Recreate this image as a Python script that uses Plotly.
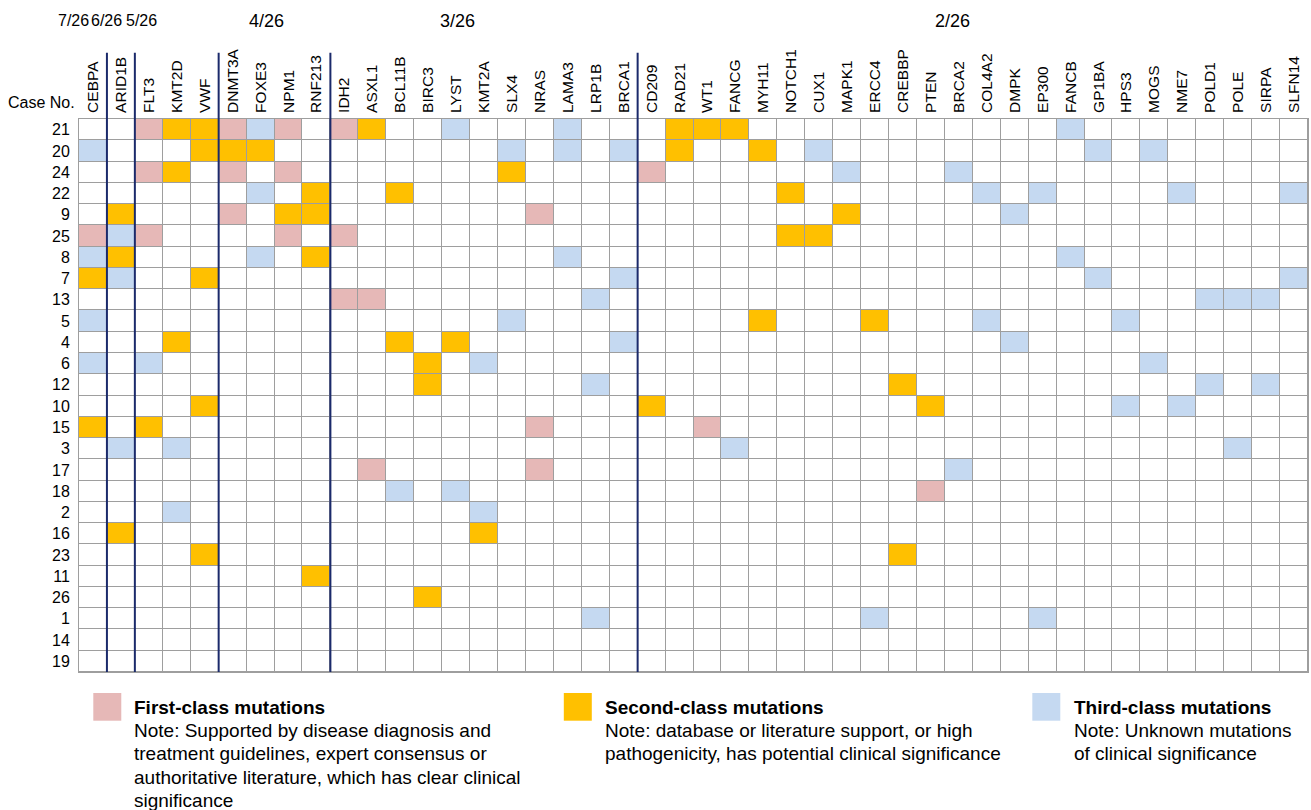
import plotly.graph_objects as go

# ---------------------------------------------------------------- data
genes = ["CEBPA", "ARID1B", "FLT3", "KMT2D", "VWF", "DNMT3A", "FOXE3", "NPM1",
         "RNF213", "IDH2", "ASXL1", "BCL11B", "BIRC3", "LYST", "KMT2A", "SLX4",
         "NRAS", "LAMA3", "LRP1B", "BRCA1", "CD209", "RAD21", "WT1", "FANCG",
         "MYH11", "NOTCH1", "CUX1", "MAPK1", "ERCC4", "CREBBP", "PTEN", "BRCA2",
         "COL4A2", "DMPK", "EP300", "FANCB", "GP1BA", "HPS3", "MOGS", "NME7",
         "POLD1", "POLE", "SIRPA", "SLFN14"]

cases = ["21", "20", "24", "22", "9", "25", "8", "7", "13", "5", "4", "6", "12",
         "10", "15", "3", "17", "18", "2", "16", "23", "11", "26", "1", "14", "19"]

# class 1: guideline / consensus supported
first_class = {
    "21": ["FLT3", "DNMT3A", "NPM1", "IDH2"],
    "24": ["FLT3", "DNMT3A", "NPM1", "CD209"],
    "9":  ["DNMT3A", "NRAS"],
    "25": ["CEBPA", "FLT3", "NPM1", "IDH2"],
    "13": ["IDH2", "ASXL1"],
    "15": ["NRAS", "WT1"],
    "17": ["ASXL1", "NRAS"],
    "18": ["PTEN"],
}

# class 2: potential clinical significance
second_class = {
    "21": ["KMT2D", "VWF", "ASXL1", "RAD21", "WT1", "FANCG"],
    "20": ["VWF", "DNMT3A", "FOXE3", "RAD21", "MYH11"],
    "24": ["KMT2D", "SLX4"],
    "22": ["RNF213", "BCL11B", "NOTCH1"],
    "9":  ["ARID1B", "NPM1", "RNF213", "MAPK1"],
    "25": ["NOTCH1", "CUX1"],
    "8":  ["ARID1B", "RNF213"],
    "7":  ["CEBPA", "VWF"],
    "5":  ["MYH11", "ERCC4"],
    "4":  ["KMT2D", "BCL11B", "LYST"],
    "6":  ["BIRC3"],
    "12": ["BIRC3", "CREBBP"],
    "10": ["VWF", "CD209", "PTEN"],
    "15": ["CEBPA", "FLT3"],
    "16": ["ARID1B", "KMT2A"],
    "23": ["VWF", "CREBBP"],
    "11": ["RNF213"],
    "26": ["BIRC3"],
}

# class 3: unknown clinical significance
third_class = {
    "21": ["FOXE3", "LYST", "LAMA3", "FANCB"],
    "20": ["CEBPA", "SLX4", "LAMA3", "BRCA1", "CUX1", "GP1BA", "MOGS"],
    "24": ["MAPK1", "BRCA2"],
    "22": ["FOXE3", "COL4A2", "EP300", "NME7", "SLFN14"],
    "9":  ["DMPK"],
    "25": ["ARID1B"],
    "8":  ["CEBPA", "FOXE3", "LAMA3", "FANCB"],
    "7":  ["ARID1B", "BRCA1", "GP1BA", "SLFN14"],
    "13": ["LRP1B", "POLD1", "POLE", "SIRPA"],
    "5":  ["CEBPA", "SLX4", "COL4A2", "HPS3"],
    "4":  ["BRCA1", "DMPK"],
    "6":  ["CEBPA", "FLT3", "KMT2A", "MOGS"],
    "12": ["LRP1B", "POLD1", "SIRPA"],
    "10": ["HPS3", "NME7"],
    "3":  ["ARID1B", "KMT2D", "FANCG", "POLE"],
    "17": ["BRCA2"],
    "18": ["BCL11B", "LYST"],
    "2":  ["KMT2D", "KMT2A"],
    "1":  ["LRP1B", "ERCC4", "EP300"],
}

class_names = ["First-class mutations", "Second-class mutations", "Third-class mutations"]
class_notes = [
    ["Note: Supported by disease diagnosis and",
     "treatment guidelines, expert consensus or",
     "authoritative literature, which has clear clinical",
     "significance"],
    ["Note: database or literature support, or high",
     "pathogenicity, has potential clinical significance"],
    ["Note: Unknown mutations",
     "of clinical significance"],
]

# ---------------------------------------------------------------- styling
FONT = "Liberation Sans, Arial, sans-serif"
WHITE = "#FFFFFF"
PINK = "#E6B8B7"
ORANGE = "#FFC000"
BLUE = "#C5D9F1"
GRID = "#9E9E9E"
NAVY = "#1B2A6B"

W, H = 1311, 810
L, R, T, B = 79, 1308.5, 119.3, 672.3


def px_x(px):
    return (px - L) / (R - L)


def px_y(py):
    return (B - py) / (B - T)


# ---------------------------------------------------------------- matrix
z = []
for c in cases:
    row = []
    for g in genes:
        v = 0
        if g in first_class.get(c, []):
            v = 1
        elif g in second_class.get(c, []):
            v = 2
        elif g in third_class.get(c, []):
            v = 3
        row.append(v)
    z.append(row)

freq = [sum(1 for r in z if r[j] > 0) for j in range(len(genes))]

colorscale = [
    [0.00, WHITE], [0.25, WHITE],
    [0.25, PINK], [0.50, PINK],
    [0.50, ORANGE], [0.75, ORANGE],
    [0.75, BLUE], [1.00, BLUE],
]

fig = go.Figure(go.Heatmap(
    z=z, x=genes, y=cases,
    zmin=-0.5, zmax=3.5,
    colorscale=colorscale, showscale=False,
    xgap=1, ygap=1,
    hovertemplate="Case %{y}<br>%{x}<extra></extra>",
))

# navy separators between frequency groups
boundaries = [j + 0.5 for j in range(len(genes) - 1) if freq[j] != freq[j + 1]]
for xb in boundaries:
    fig.add_shape(type="line", xref="x", yref="paper",
                  x0=xb, x1=xb, y0=0, y1=px_y(53),
                  line=dict(color=NAVY, width=2))

# frequency labels above each group
groups = []
start = 0
for j in range(1, len(genes) + 1):
    if j == len(genes) or freq[j] != freq[start]:
        groups.append((start, j - 1, freq[start]))
        start = j
label_px = [73, 107, 141.5, 267, 458, 953]
label_size = [16, 16, 16, 18, 18, 18]
for (a, b, n), lx, fs in zip(groups, label_px, label_size):
    fig.add_annotation(x=px_x(lx), y=px_y(21), xref="paper", yref="paper",
                       text=f"{n}/{len(cases)}", showarrow=False,
                       xanchor="center", yanchor="middle",
                       font=dict(size=fs, color="#000", family=FONT))

fig.add_annotation(x=px_x(77), y=px_y(103), xref="paper", yref="paper",
                   text="Case No.", showarrow=False, xanchor="right",
                   yanchor="middle", font=dict(size=16, color="#000", family=FONT))

# legend blocks
swatch_x = [93.3, 564, 1032.7]
text_x = [131.7, 603.3, 1072.3]
for k, col in enumerate([PINK, ORANGE, BLUE]):
    fig.add_shape(type="rect", xref="paper", yref="paper",
                  x0=px_x(swatch_x[k]), x1=px_x(swatch_x[k] + 28),
                  y0=px_y(721), y1=px_y(693.3),
                  fillcolor=col, line=dict(width=0))
    fig.add_annotation(x=px_x(text_x[k]), y=px_y(707.5), xref="paper", yref="paper",
                       text=f"<b>{class_names[k]}</b>", showarrow=False,
                       xanchor="left", yanchor="middle",
                       font=dict(size=19, color="#000", family=FONT))
    for i, line in enumerate(class_notes[k]):
        fig.add_annotation(x=px_x(text_x[k]), y=px_y(731 + 23.2 * i),
                           xref="paper", yref="paper", text=line,
                           showarrow=False, xanchor="left", yanchor="middle",
                           font=dict(size=19, color="#000", family=FONT))

fig.update_xaxes(side="top", tickangle=-90, ticks="", showgrid=False,
                 zeroline=False, showline=True, mirror=True, linecolor=GRID,
                 linewidth=1, range=[-0.5, len(genes) - 0.5],
                 tickfont=dict(size=15.5, color="#000", family=FONT),
                 ticklabelstandoff=2)
fig.update_yaxes(autorange="reversed", ticks="", showgrid=False,
                 zeroline=False, showline=True, mirror=True, linecolor=GRID,
                 linewidth=1, tickfont=dict(size=16, color="#000", family=FONT),
                 ticklabelstandoff=5)

fig.update_layout(
    width=W, height=H,
    margin=dict(l=L, r=W - R, t=T, b=H - B, pad=0),
    plot_bgcolor=GRID, paper_bgcolor="white",
    font=dict(family=FONT, color="#000"),
    showlegend=False,
)

fig.write_html("out.html")
